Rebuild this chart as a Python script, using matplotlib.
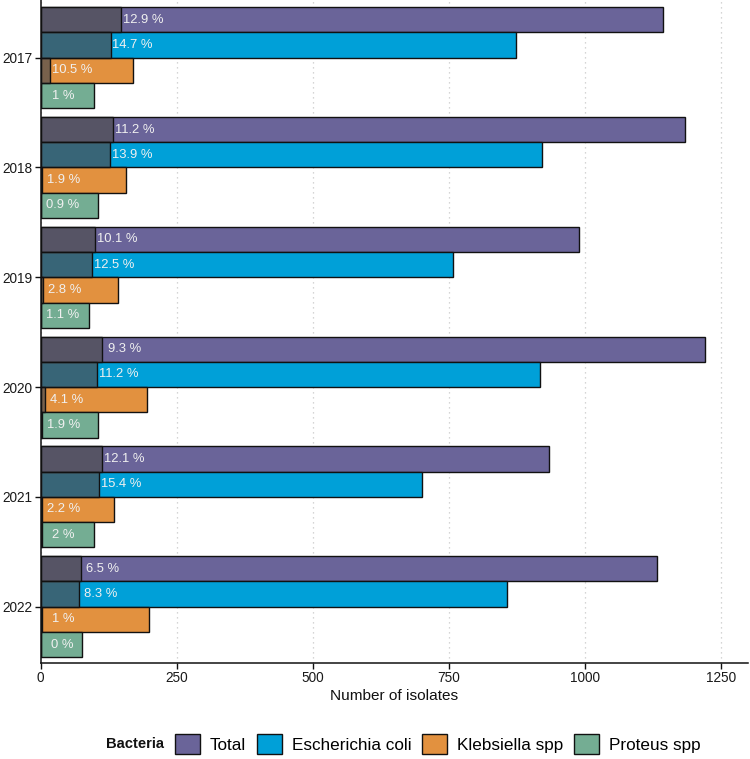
import matplotlib
matplotlib.use("Agg")
import matplotlib.pyplot as plt
from matplotlib.patches import Patch
import numpy as np

plt.rcParams['font.family'] = ['Liberation Sans', 'DejaVu Sans']

years = ["2017", "2018", "2019", "2020", "2021", "2022"]
bacteria = ["Total", "Escherichia coli", "Klebsiella spp", "Proteus spp"]

n_total = [1143, 1183, 989, 1220, 933, 1131]
n_ecoli = [873, 921, 758, 917, 701, 856]
n_kleb = [170, 156, 142, 195, 134, 199]
n_prot = [98, 106, 89, 106, 97, 75]

pct_total = [12.9, 11.2, 10.1, 9.3, 12.1, 6.5]
pct_ecoli = [14.7, 13.9, 12.5, 11.2, 15.4, 8.3]
pct_kleb = [10.5, 1.9, 2.8, 4.1, 2.2, 1]
pct_prot = [1, 0.9, 1.1, 1.9, 2, 0]

pct_labels_total = ["12.9 %", "11.2 %", "10.1 %", "9.3 %", "12.1 %", "6.5 %"]
pct_labels_ecoli = ["14.7 %", "13.9 %", "12.5 %", "11.2 %", "15.4 %", "8.3 %"]
pct_labels_kleb = ["10.5 %", "1.9 %", "2.8 %", "4.1 %", "2.2 %", "1 %"]
pct_labels_prot = ["1 %", "0.9 %", "1.1 %", "1.9 %", "2 %", "0 %"]

colors = ["#6a6499", "#00a0d8", "#e2913f", "#74ad93"]

counts = [n_total, n_ecoli, n_kleb, n_prot]
pcts = [pct_total, pct_ecoli, pct_kleb, pct_prot]
labels = [pct_labels_total, pct_labels_ecoli, pct_labels_kleb, pct_labels_prot]

fig = plt.figure(figsize=(7.5, 7.59), dpi=100)
W, H = 750, 759
ax = fig.add_axes([40.7 / W, 1 - 663 / H, (748 - 40.7) / W, 663 / H])

y = np.arange(len(years))
bh = 0.23
offsets = [-1.5 * bh, -0.5 * bh, 0.5 * bh, 1.5 * bh]

for k in range(4):
    cnt = np.array(counts[k], dtype=float)
    pc = np.array(pcts[k], dtype=float)
    res = cnt * pc / 100.0
    yy = y + offsets[k]
    ax.barh(yy, cnt, height=bh, color=colors[k], edgecolor="#111111",
            linewidth=1.0, zorder=3)
    ax.barh(yy, res, height=bh, color=(0.31, 0.31, 0.32, 0.72),
            edgecolor="#111111", linewidth=1.0, zorder=4)
    for i in range(len(years)):
        ax.text(res[i] + 40, yy[i], labels[k][i], ha="center", va="center",
                color="#f0f0f0", fontsize=9.4, zorder=5)

ax.set_xlim(0, 1299)
ax.set_ylim(5.513, -0.525)
ax.set_yticks(y)
ax.set_yticklabels(years)
ax.set_xticks([0, 250, 500, 750, 1000, 1250])
ax.set_xticklabels(["0", "250", "500", "750", "1000", "1250"])
ax.tick_params(axis="both", labelsize=9.8, length=4, width=1.0,
               colors="#111111", labelcolor="#1a1a1a", pad=2)
ax.set_xlabel("Number of isolates", fontsize=11.1, color="#111111", labelpad=3)

ax.xaxis.grid(True, linestyle=(0, (1, 3)), color="#c8c8c8", linewidth=0.9, zorder=0)
ax.set_axisbelow(True)
for s in ["top", "right"]:
    ax.spines[s].set_visible(False)
for s in ["left", "bottom"]:
    ax.spines[s].set_linewidth(1.1)
    ax.spines[s].set_color("#111111")

handles = [Patch(facecolor=colors[k], edgecolor="#111111", linewidth=1.0,
                 label=bacteria[k]) for k in range(4)]
leg = fig.legend(handles=handles, loc="center left",
                 bbox_to_anchor=(175 / W, 1 - 744 / H), ncol=4, frameon=False,
                 fontsize=12.3, borderpad=0, borderaxespad=0,
                 handlelength=1.46, handleheight=1.46, handletextpad=0.58,
                 columnspacing=0.64)
fig.text(164 / W, 1 - 744 / H, "Bacteria", ha="right", va="center",
         fontsize=10.6, fontweight="bold", color="#111111")

fig.savefig("out.png", dpi=100)
